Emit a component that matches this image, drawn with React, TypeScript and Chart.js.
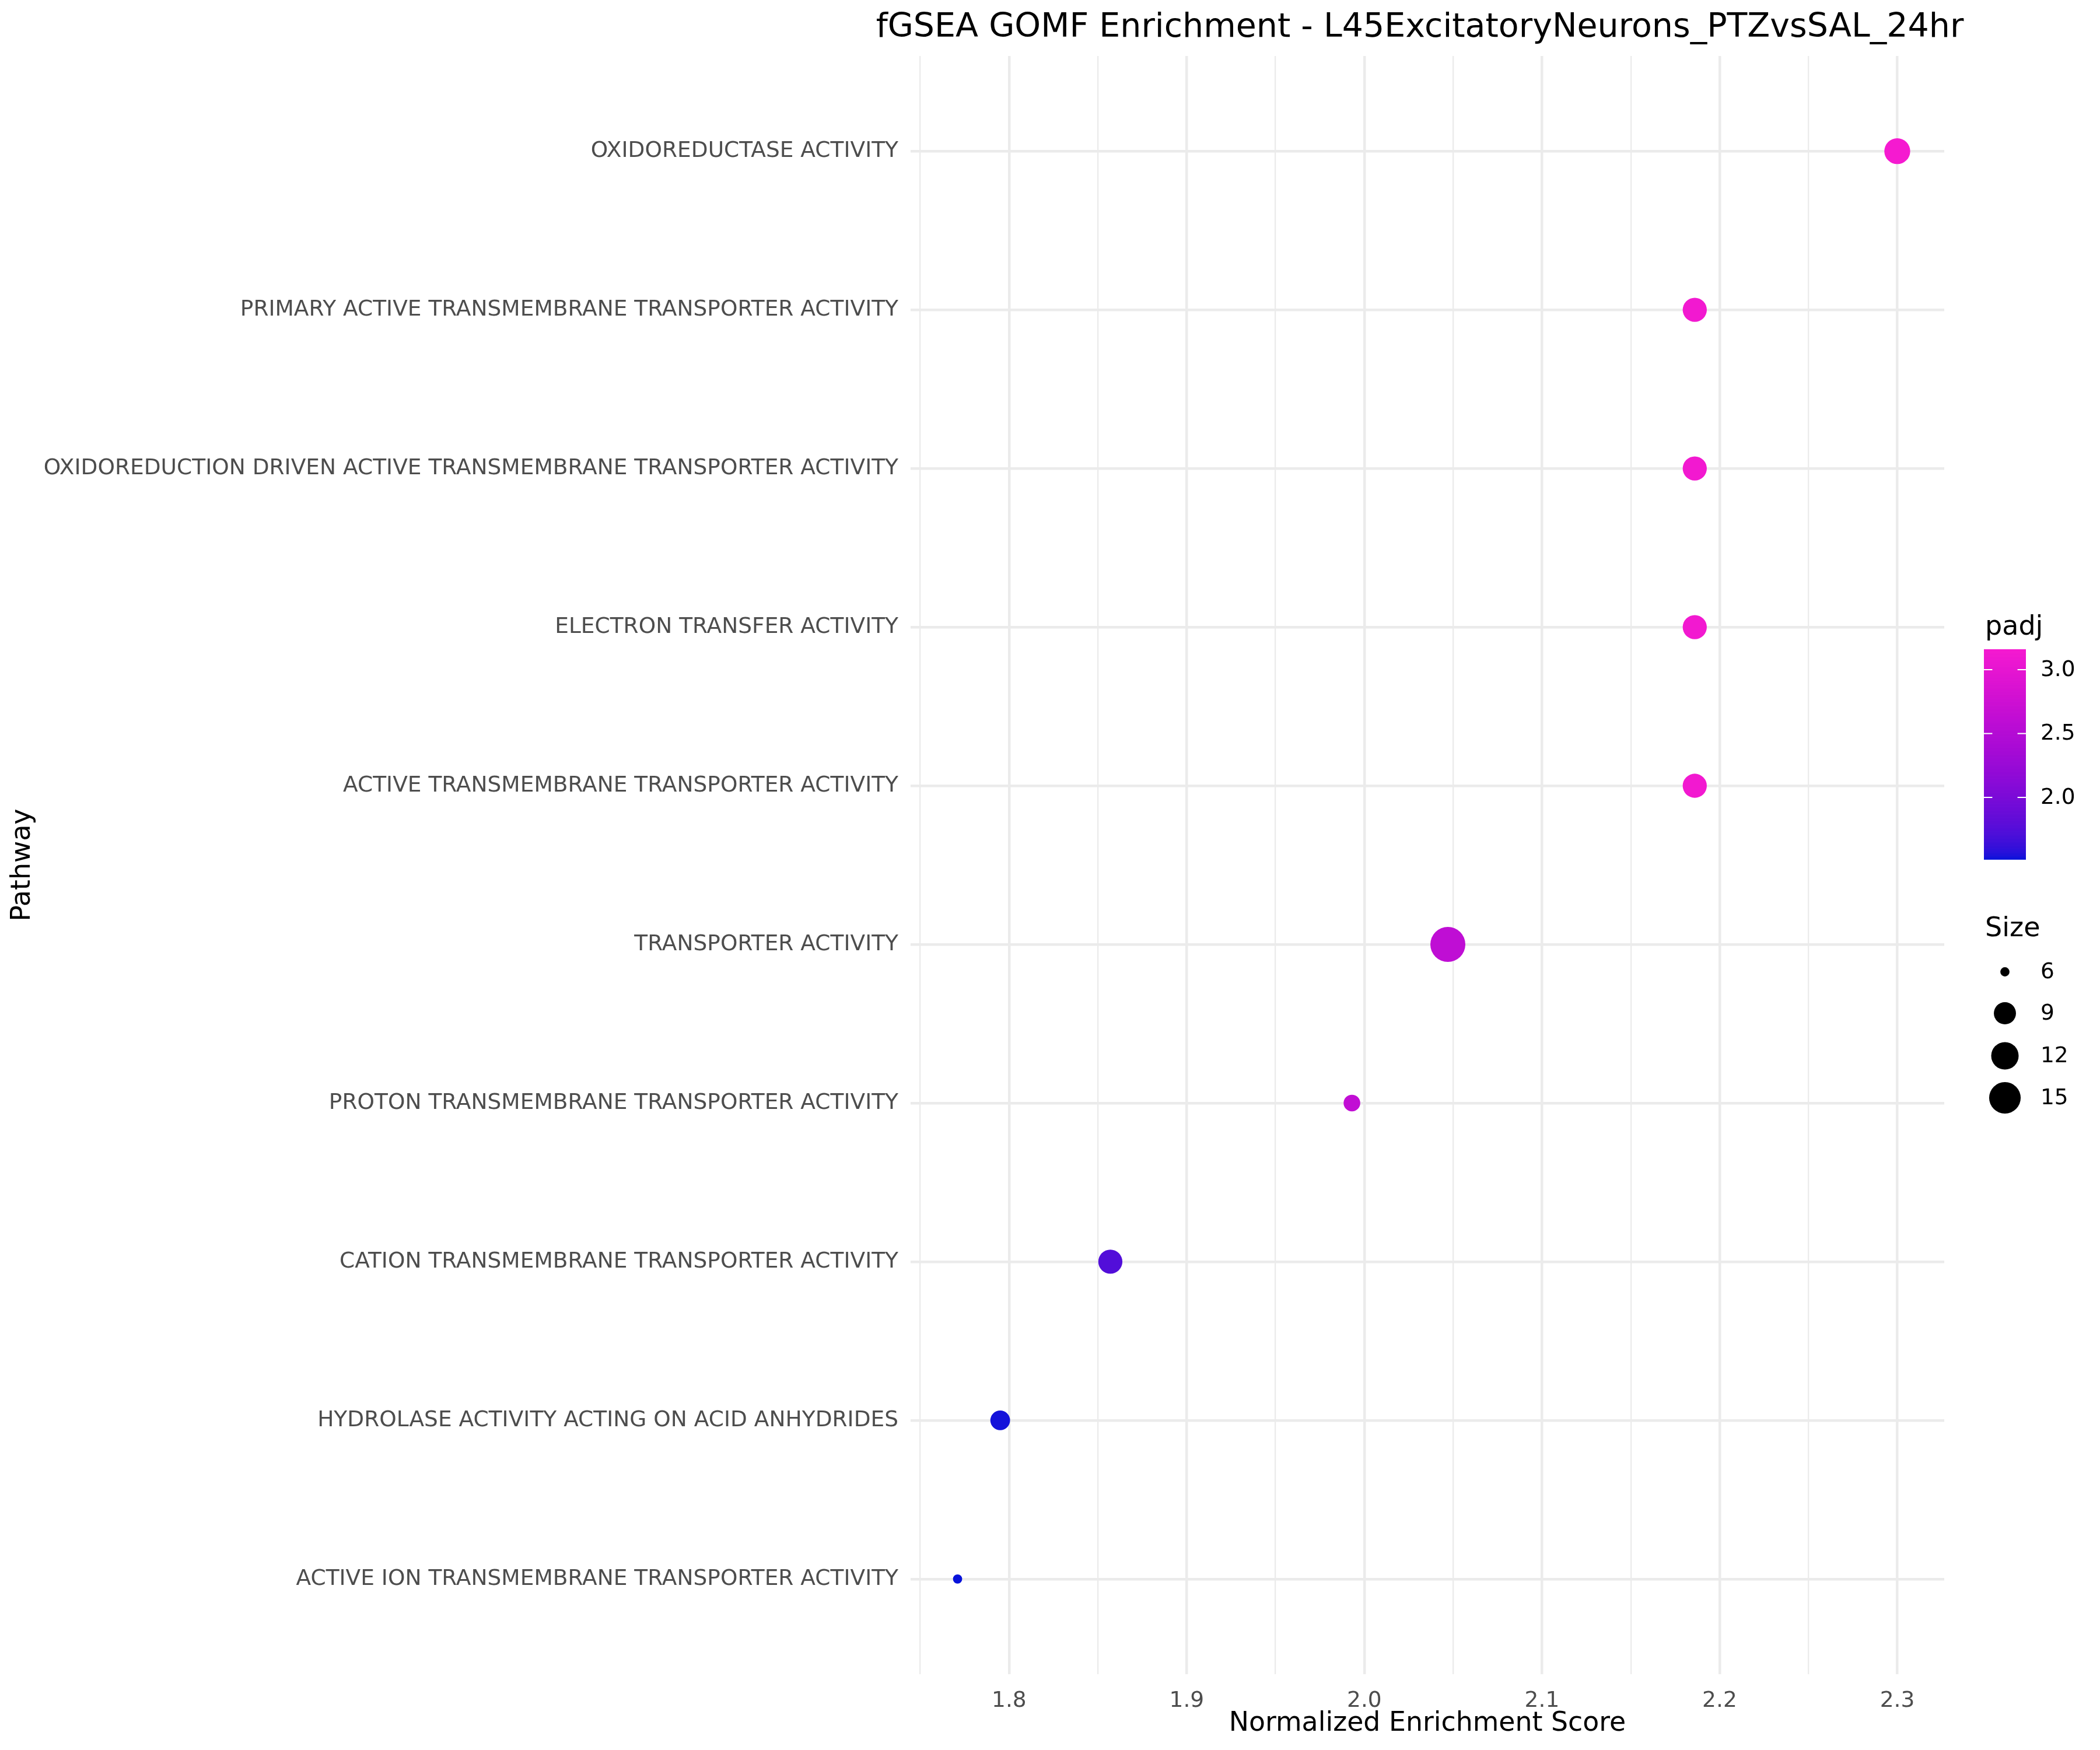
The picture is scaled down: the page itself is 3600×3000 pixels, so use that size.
import React, { useEffect, useRef } from 'react';
import { Chart, registerables } from 'chart.js';

Chart.register(...registerables);

const categories = [
  'OXIDOREDUCTASE ACTIVITY',
  'PRIMARY ACTIVE TRANSMEMBRANE TRANSPORTER ACTIVITY',
  'OXIDOREDUCTION DRIVEN ACTIVE TRANSMEMBRANE TRANSPORTER ACTIVITY',
  'ELECTRON TRANSFER ACTIVITY',
  'ACTIVE TRANSMEMBRANE TRANSPORTER ACTIVITY',
  'TRANSPORTER ACTIVITY',
  'PROTON TRANSMEMBRANE TRANSPORTER ACTIVITY',
  'CATION TRANSMEMBRANE TRANSPORTER ACTIVITY',
  'HYDROLASE ACTIVITY ACTING ON ACID ANHYDRIDES',
  'ACTIVE ION TRANSMEMBRANE TRANSPORTER ACTIVITY',
];
const nesValues = [2.3, 2.186, 2.186, 2.186, 2.186, 2.047, 1.993, 1.857, 1.795, 1.771];
const padjValues = [3.16, 3.13, 3.13, 3.13, 3.13, 2.6, 2.62, 1.74, 1.53, 1.516];
const sizeValues = [11, 10, 10, 10, 10, 18, 7, 10, 8, 6];
const xMajorTicks = [1.8, 1.9, 2.0, 2.1, 2.2, 2.3];
const xMinorTicks = [1.75, 1.85, 1.95, 2.05, 2.15, 2.25];
const padjTicks = [2.0, 2.5, 3.0];
const sizeBreaks = [6, 9, 12, 15];

const TITLE = 'fGSEA GOMF Enrichment - L45ExcitatoryNeurons_PTZvsSAL_24hr';
const X_TITLE = 'Normalized Enrichment Score';
const Y_TITLE = 'Pathway';
const LOW_COLOR = '#0712DA';
const HIGH_COLOR = '#F51AD0';
const FONT = '"DejaVu Sans", sans-serif';
const TICK_SIZE = 37.5;

// ---- colour helpers (CIELAB interpolation like ggplot) ----
function hexToRgb(h: string): number[] {
  const v = h.replace('#', '');
  return [0, 2, 4].map((i) => parseInt(v.slice(i, i + 2), 16));
}
function toLin(c: number) {
  c /= 255;
  return c <= 0.04045 ? c / 12.92 : Math.pow((c + 0.055) / 1.055, 2.4);
}
function fromLin(c: number) {
  const v = c <= 0.0031308 ? 12.92 * c : 1.055 * Math.pow(c, 1 / 2.4) - 0.055;
  return Math.round(Math.max(0, Math.min(1, v)) * 255);
}
function rgbToLab(rgb: number[]) {
  const [R, G, B] = rgb.map(toLin);
  const X = (0.4124 * R + 0.3576 * G + 0.1805 * B) / 0.95047;
  const Y = 0.2126 * R + 0.7152 * G + 0.0722 * B;
  const Z = (0.0193 * R + 0.1192 * G + 0.9505 * B) / 1.08883;
  const f = (t: number) => (t > 0.008856 ? Math.cbrt(t) : 7.787 * t + 16 / 116);
  const fx = f(X), fy = f(Y), fz = f(Z);
  return [116 * fy - 16, 500 * (fx - fy), 200 * (fy - fz)];
}
function labToRgb(lab: number[]) {
  const [L, a, b] = lab;
  const fy = (L + 16) / 116;
  const fx = fy + a / 500;
  const fz = fy - b / 200;
  const inv = (t: number) => (t * t * t > 0.008856 ? t * t * t : (t - 16 / 116) / 7.787);
  const X = inv(fx) * 0.95047, Y = inv(fy), Z = inv(fz) * 1.08883;
  const R = 3.2406 * X - 1.5372 * Y - 0.4986 * Z;
  const G = -0.9689 * X + 1.8758 * Y + 0.0415 * Z;
  const B = 0.0557 * X - 0.204 * Y + 1.057 * Z;
  return [fromLin(R), fromLin(G), fromLin(B)];
}
const labLow = rgbToLab(hexToRgb(LOW_COLOR));
const labHigh = rgbToLab(hexToRgb(HIGH_COLOR));
const pMin = Math.min(...padjValues);
const pMax = Math.max(...padjValues);
function colorFor(v: number) {
  const t = Math.max(0, Math.min(1, (v - pMin) / (pMax - pMin)));
  const lab = labLow.map((l, i) => l + (labHigh[i] - l) * t);
  const [r, g, b] = labToRgb(lab);
  return `rgb(${r},${g},${b})`;
}

// ---- size helper (area scale like ggplot) ----
const sMin = Math.min(...sizeValues);
const sMax = Math.max(...sizeValues);
function radiusFor(s: number) {
  const mm = 1 + 3.73 * Math.sqrt(Math.max(0, (s - sMin) / (sMax - sMin)));
  const pt = mm * 2.845 + 0.945;
  return (pt * 300) / 72 / 2;
}

// x domain with ggplot's 5% expansion
const dMin = Math.min(...nesValues);
const dMax = Math.max(...nesValues);
const xPad = (dMax - dMin) * 0.05;
const xMin = dMin - xPad;
const xMax = dMax + xPad;
const allXTicks = [...xMajorTicks, ...xMinorTicks].sort((a, b) => a - b);
const isMajor = (v: number) => xMajorTicks.some((m) => Math.abs(m - v) < 1e-6);

const legendPlugin = {
  id: 'ggLegend',
  afterDraw(chart: any) {
    const ctx = chart.ctx as CanvasRenderingContext2D;
    ctx.save();
    // title
    ctx.fillStyle = '#000';
    ctx.font = `57px ${FONT}`;
    ctx.textAlign = 'center';
    ctx.textBaseline = 'alphabetic';
    ctx.fillText(TITLE, 2434, 63);

    // colourbar legend
    const lx = 3401;
    ctx.textAlign = 'left';
    ctx.font = `46px ${FONT}`;
    ctx.fillText('padj', lx + 2, 1088);
    const barTop = 1113, barBottom = 1473, barW = 72;
    const n = 300;
    for (let i = 0; i < n; i++) {
      const v = pMax - ((pMax - pMin) * (i + 0.5)) / n;
      ctx.fillStyle = colorFor(v);
      const y0 = barTop + ((barBottom - barTop) * i) / n;
      ctx.fillRect(lx, y0, barW, (barBottom - barTop) / n + 0.8);
    }
    ctx.strokeStyle = '#FFFFFF';
    ctx.lineWidth = 2;
    ctx.font = `${TICK_SIZE}px ${FONT}`;
    ctx.textBaseline = 'middle';
    for (const t of padjTicks) {
      const y = barTop + ((pMax - t) / (pMax - pMin)) * (barBottom - barTop);
      ctx.beginPath();
      ctx.moveTo(lx, y);
      ctx.lineTo(lx + barW / 5, y);
      ctx.moveTo(lx + barW - barW / 5, y);
      ctx.lineTo(lx + barW, y);
      ctx.stroke();
      ctx.fillStyle = '#000';
      ctx.fillText(t.toFixed(1), 3498, y + 1);
    }

    // size legend
    ctx.textBaseline = 'alphabetic';
    ctx.font = `46px ${FONT}`;
    ctx.fillText('Size', lx + 2, 1605);
    const keyYs = [1666, 1737, 1810, 1882];
    ctx.font = `${TICK_SIZE}px ${FONT}`;
    ctx.textBaseline = 'middle';
    sizeBreaks.forEach((s, i) => {
      ctx.fillStyle = '#000';
      ctx.beginPath();
      ctx.arc(3437, keyYs[i], radiusFor(s), 0, Math.PI * 2);
      ctx.fill();
      ctx.fillText(String(s), 3498, keyYs[i] + 1);
    });
    ctx.restore();
  },
};

export default function App() {
  const ref = useRef<HTMLCanvasElement>(null);
  useEffect(() => {
    document.body.style.margin = '0';
    const canvas = ref.current!;
    const chart = new Chart(canvas, {
      type: 'scatter',
      data: {
        datasets: [
          {
            data: nesValues.map((x, i) => ({ x, y: i })),
            pointRadius: sizeValues.map(radiusFor),
            pointHoverRadius: sizeValues.map(radiusFor),
            pointBackgroundColor: padjValues.map(colorFor),
            pointBorderWidth: 0,
            pointBorderColor: 'rgba(0,0,0,0)',
          },
        ],
      },
      options: {
        responsive: false,
        animation: false,
        devicePixelRatio: 1,
        events: [],
        layout: { padding: { left: 0, top: 96, right: 267, bottom: 0 } },
        plugins: {
          legend: { display: false },
          tooltip: { enabled: false },
          title: { display: false },
        },
        scales: {
          x: {
            type: 'linear',
            min: xMin,
            max: xMax,
            afterBuildTicks: (s: any) => {
              s.ticks = allXTicks.map((v) => ({ value: v }));
            },
            afterFit: (s: any) => {
              s.height = 130;
            },
            border: { display: false },
            grid: {
              color: '#EBEBEB',
              drawTicks: false,
              lineWidth: (c: any) => (c.tick && isMajor(c.tick.value) ? 4.5 : 2.3),
            },
            ticks: {
              autoSkip: false,
              maxRotation: 0,
              padding: 24,
              color: '#4D4D4D',
              font: { family: FONT, size: TICK_SIZE },
              callback: (v: any) => (isMajor(Number(v)) ? Number(v).toFixed(1) : ''),
            },
            title: {
              display: true,
              text: X_TITLE,
              color: '#000',
              font: { family: FONT, size: 45.8 },
              padding: { top: 0, bottom: 17 },
            },
          },
          y: {
            type: 'linear',
            reverse: true,
            min: -0.6,
            max: categories.length - 1 + 0.6,
            afterBuildTicks: (s: any) => {
              s.ticks = categories.map((_, i) => ({ value: i }));
            },
            afterFit: (s: any) => {
              s.width = 1561;
            },
            border: { display: false },
            grid: { color: '#EBEBEB', drawTicks: false, lineWidth: 4.5 },
            ticks: {
              autoSkip: false,
              padding: 21,
              color: '#4D4D4D',
              font: { family: FONT, size: TICK_SIZE },
              callback: (v: any) => categories[Number(v)] ?? '',
            },
            title: {
              display: true,
              text: Y_TITLE,
              color: '#000',
              font: { family: FONT, size: 45.8 },
              padding: { top: 12, bottom: 0 },
            },
          },
        },
      } as any,
      plugins: [legendPlugin],
    });
    return () => chart.destroy();
  }, []);
  return <canvas ref={ref} width={3600} height={3000} style={{ display: 'block', width: 3600, height: 3000 }} />;
}
